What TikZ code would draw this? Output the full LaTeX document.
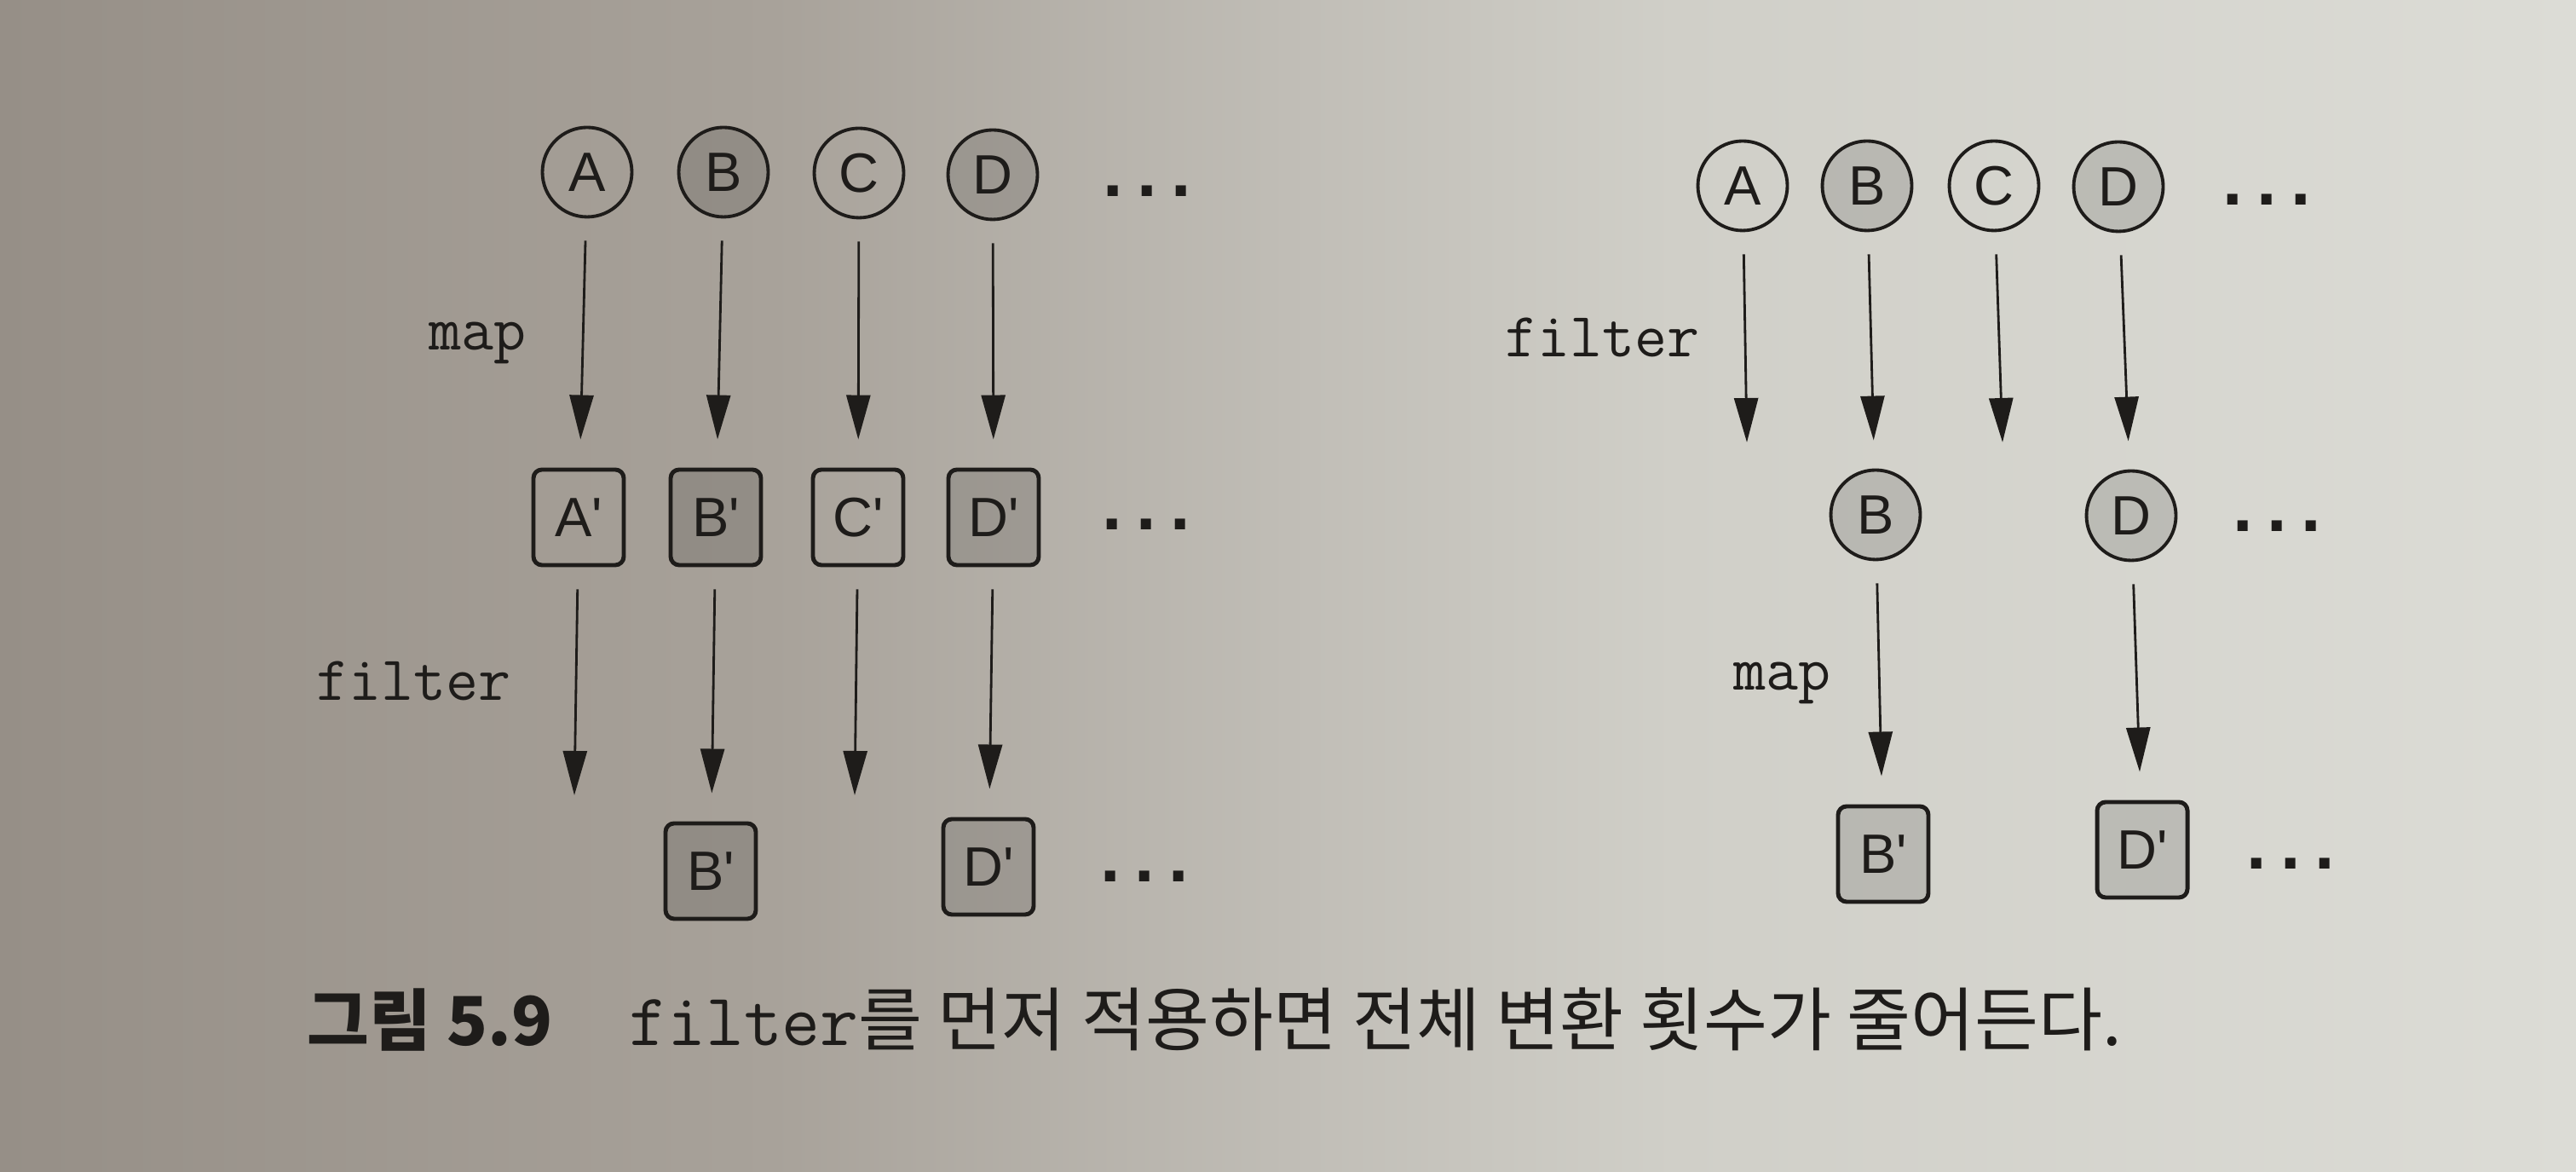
\documentclass[tikz,border=0pt]{standalone}
\usepackage{fontspec}
\newfontfamily\letterfont{Liberation Sans}
\newfontfamily\kofont{Noto Sans CJK KR}
\usepackage{tikz}
\usetikzlibrary {arrows.meta,
                 positioning}
\definecolor{ink}{RGB}{30,28,26}
\definecolor{paperA}{RGB}{150,143,135}
\definecolor{paperB}{RGB}{168,162,154}
\definecolor{paperC}{RGB}{192,189,182}
\definecolor{paperD}{RGB}{208,207,200}
\definecolor{paperE}{RGB}{220,220,214}
\pgfdeclarehorizontalshading{paper}{100bp}{color(0bp)=(paperA);
  color(25bp)=(paperA); color(40bp)=(paperB); color(50bp)=(paperC);
  color(57.5bp)=(paperD); color(75bp)=(paperE); color(100bp)=(paperE)}
\tikzset{
        base/.style={draw=ink, text=ink, inner sep=0pt},
        elem/.style={base, circle, line width=1.1pt, minimum size=1.05cm,
                     font=\letterfont\fontsize{18.5}{18.5}\selectfont},
        result/.style={base, rectangle, rounded corners=1mm, line width=1.4pt,
                       minimum width=1.06cm, minimum height=1.12cm,
                       font=\letterfont\fontsize{18.5}{18.5}\selectfont},
        kept/.style={fill=black, fill opacity=0.12, text opacity=1},
        tag/.style={inner sep=0pt, text=ink,
                    font=\ttfamily\fontsize{21}{21}\selectfont},
        more/.style={inner sep=0pt, text=ink,
                     font=\letterfont\bfseries\fontsize{24}{24}\selectfont},
        caption/.style={inner sep=0pt, text=ink,
                        font=\kofont\fontsize{23.2}{25}\selectfont},
        myarrow/.style={-{Triangle[length=5.2mm, width=2.8mm]}, line width=0.8pt,
                        draw=ink, shorten <=2.6mm, shorten >=3.3mm},
 }
\newcommand{\trail}{.\hspace{1.65mm}.\hspace{1.65mm}.}

\begin{document}
\begin{tikzpicture}
    \shade[shading=paper] (0,0) rectangle (30.23,13.75);
    \useasboundingbox (0,0) rectangle (30.23,13.75);

    % map, then filter
    \node[elem] (ma1) at (6.89,11.73) {A};
    \node[elem, kept] (mb1) at (8.49,11.73) {B};
    \node[elem] (mc1) at (10.08,11.72) {C};
    \node[elem, kept] (md1) at (11.65,11.70) {D};
    \node[more, right=0.74cm of md1, yshift=-1.9mm] (mm1) {\trail};

    \node[result] (ma2) at (6.79,7.68) {A\textquotesingle};
    \node[result, kept] (mb2) at (8.40,7.68) {B\textquotesingle};
    \node[result] (mc2) at (10.07,7.68) {C\textquotesingle};
    \node[result, kept] (md2) at (11.66,7.68) {D\textquotesingle};
    \node[more, right=0.71cm of md2, yshift=-0.8mm] (mm2) {\trail};

    \coordinate (ma3) at (6.74,4.42);
    \node[result, kept] (mb3) at (8.34,3.53) {B\textquotesingle};
    \coordinate (mc3) at (10.03,4.42);
    \node[result, kept] (md3) at (11.60,3.58) {D\textquotesingle};
    \node[more, right=0.75cm of md3, yshift=-1.1mm] (mm3) {\trail};

    \draw[myarrow] (ma1) -- node[tag, left=6.5mm] {map} (ma2);
    \draw[myarrow] (mb1) -- (mb2);
    \draw[myarrow] (mc1) -- (mc2);
    \draw[myarrow] (md1) -- (md2);

    \draw[myarrow, shorten >=0pt] (ma2) -- node[tag, left=7.5mm] {filter} (ma3);
    \draw[myarrow] (mb2) -- (mb3);
    \draw[myarrow, shorten >=0pt] (mc2) -- (mc3);
    \draw[myarrow] (md2) -- (md3);

    % filter, then map
    \node[elem] (fa1) at (20.45,11.57) {A};
    \node[elem, kept] (fb1) at (21.91,11.57) {B};
    \node[elem] (fc1) at (23.40,11.57) {C};
    \node[elem, kept] (fd1) at (24.86,11.56) {D};
    \node[more, right=0.67cm of fd1, yshift=-1.5mm] (fm1) {\trail};

    \coordinate (fa2) at (20.50,8.56);
    \node[elem, kept] (fb2) at (22.01,7.71) {B};
    \coordinate (fc2) at (23.50,8.56);
    \node[elem, kept] (fd2) at (25.01,7.70) {D};
    \node[more, right=0.64cm of fd2, yshift=-1.2mm] (fm2) {\trail};

    \node[result, kept] (fb3) at (22.10,3.73) {B\textquotesingle};
    \node[result, kept] (fd3) at (25.14,3.78) {D\textquotesingle};
    \node[more, right=0.66cm of fd3, yshift=-1.6mm] (fm3) {\trail};

    \draw[myarrow, shorten >=0pt] (fa1) -- node[tag, left=5.2mm] {filter} (fa2);
    \draw[myarrow] (fb1) -- (fb2);
    \draw[myarrow, shorten >=0pt] (fc1) -- (fc2);
    \draw[myarrow] (fd1) -- (fd2);

    \draw[myarrow] (fb2) -- node[tag, left=5.6mm] {map} (fb3);
    \draw[myarrow] (fd2) -- (fd3);

    \node[caption, anchor=base west] (cap) at (3.60,1.48)
         {{\bfseries\fontsize{22.5}{25}\selectfont 그림 5.9}\hspace{9mm}%
          {\ttfamily\fontsize{24.8}{25}\selectfont filter}를 먼저 적용하면 전체 변환 횟수가 줄어든다.};

%    \draw[myarrow] (fb2) -- (fb3);
\end{tikzpicture}
\end{document}
